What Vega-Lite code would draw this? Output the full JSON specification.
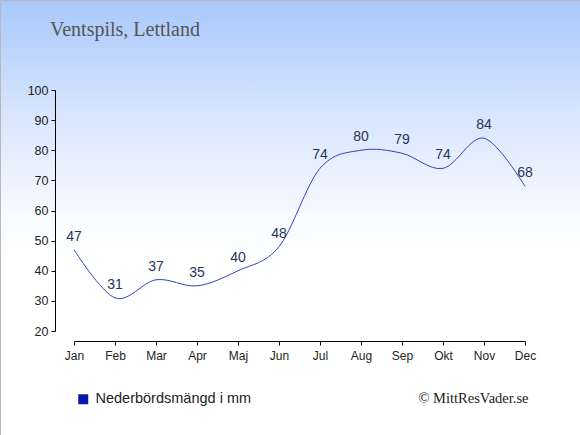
{
  "$schema": "https://vega.github.io/schema/vega-lite/v6.json",
  "width": 580,
  "height": 435,
  "autosize": "none",
  "padding": 0,
  "title": {
    "text": "Ventspils, Lettland",
    "anchor": "start",
    "frame": "group",
    "dx": 50,
    "dy": 18,
    "offset": -38,
    "baseline": "alphabetic",
    "font": "Liberation Serif",
    "fontSize": 20,
    "fontWeight": "normal",
    "color": "#555555"
  },
  "data": {
    "values": [
      {"month": "Jan", "mm": 47},
      {"month": "Feb", "mm": 31},
      {"month": "Mar", "mm": 37},
      {"month": "Apr", "mm": 35},
      {"month": "Maj", "mm": 40},
      {"month": "Jun", "mm": 48},
      {"month": "Jul", "mm": 74},
      {"month": "Aug", "mm": 80},
      {"month": "Sep", "mm": 79},
      {"month": "Okt", "mm": 74},
      {"month": "Nov", "mm": 84},
      {"month": "Dec", "mm": 68}
    ]
  },
  "encoding": {
    "x": {
      "field": "month", "type": "ordinal", "sort": null,
      "scale": {"type": "point", "range": [74, 525], "padding": 0},
      "axis": {
        "orient": "bottom", "offset": -94, "labelAngle": 0,
        "labelFont": "Liberation Sans", "labelFontSize": 12, "labelColor": "#222222",
        "labelPadding": 5, "tickSize": 4, "tickColor": "#000000", "domainColor": "#000000",
        "title": "© MittResVader.se", "titleFont": "Liberation Serif", "titleFontSize": 14.5,
        "titleFontWeight": "normal", "titleColor": "#222222", "titleX": 473, "titleY": 61,
        "titleBaseline": "alphabetic", "titleAlign": "center"
      }
    },
    "y": {
      "field": "mm", "type": "quantitative",
      "scale": {"domain": [20, 100], "range": [331, 90], "zero": false, "nice": false},
      "axis": {
        "orient": "left", "offset": -55, "values": [20, 30, 40, 50, 60, 70, 80, 90, 100],
        "grid": false, "title": null,
        "labelFont": "Liberation Sans", "labelFontSize": 12.5, "labelColor": "#222222",
        "labelPadding": 3, "tickSize": 4, "tickColor": "#000000", "domainColor": "#000000"
      }
    }
  },
  "layer": [
    {
      "mark": {"type": "line", "interpolate": "cardinal", "strokeWidth": 1},
      "encoding": {
        "color": {
          "datum": "Nederbördsmängd i mm",
          "scale": {"range": ["#3040c4"]},
          "legend": {
            "title": null, "orient": "none", "legendX": 76, "legendY": 392,
            "symbolType": "square", "symbolSize": 100,
            "labelFont": "Liberation Sans", "labelFontSize": 14.5, "labelColor": "#222222",
            "labelOffset": 5, "labelLimit": 400,
            "encode": {"symbols": {"update": {"fill": {"value": "#0a18a8"}, "stroke": {"value": "#0a18a8"}, "strokeWidth": {"value": 0}}}}
          }
        }
      }
    },
    {
      "mark": {"type": "text", "dy": -13, "baseline": "middle", "font": "Liberation Sans", "fontSize": 14, "color": "#26365a"},
      "encoding": {"text": {"field": "mm", "type": "quantitative"}}
    }
  ],
  "config": {
    "view": {
      "stroke": "#b8b8b8",
      "fill": {
        "gradient": "linear", "x1": 0, "y1": 0, "x2": 0, "y2": 1,
        "stops": [
          {"offset": 0, "color": "#a8c8fb"},
          {"offset": 0.25, "color": "#d6e4fd"},
          {"offset": 0.5, "color": "#f8fbff"},
          {"offset": 0.6, "color": "#ffffff"},
          {"offset": 1, "color": "#ffffff"}
        ]
      }
    }
  }
}
